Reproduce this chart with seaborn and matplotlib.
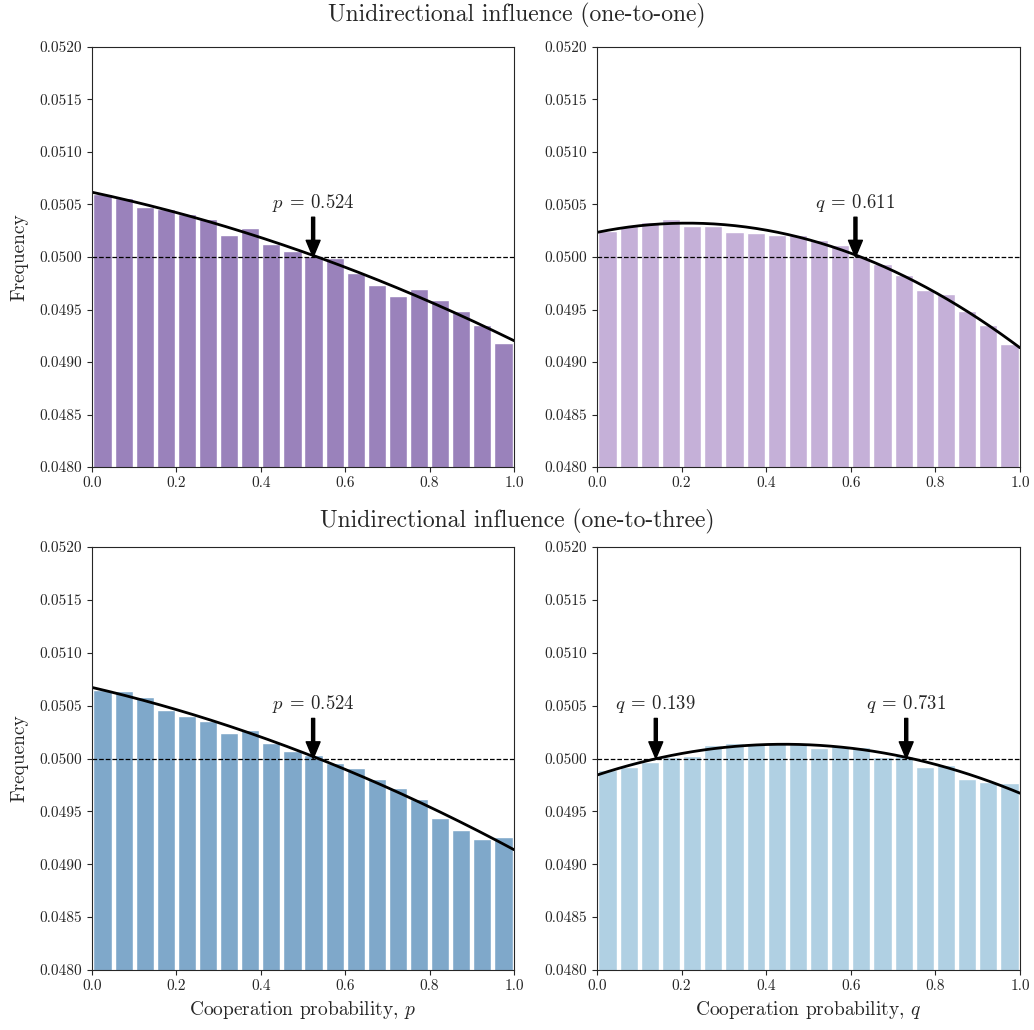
import numpy as np
import matplotlib
matplotlib.use('Agg')
import matplotlib.pyplot as plt
from matplotlib.ticker import FormatStrFormatter, MultipleLocator
import seaborn as sns

# bin centres (20 bins over [0, 1])
centers = np.arange(0.025, 1.0, 0.05)

# frequencies
freq_one_p = [0.05060, 0.05056, 0.05048, 0.05046, 0.05041, 0.05036, 0.05021, 0.05028, 0.05012, 0.05006,
              0.05001, 0.04999, 0.04985, 0.04973, 0.04963, 0.04970, 0.04959, 0.04949, 0.04935, 0.04918]
freq_one_q = [0.05025, 0.05030, 0.05033, 0.05036, 0.05030, 0.05030, 0.05024, 0.05023, 0.05021, 0.05021,
              0.05016, 0.05011, 0.05000, 0.04993, 0.04983, 0.04969, 0.04965, 0.04949, 0.04935, 0.04917]
freq_three_p = [0.05065, 0.05064, 0.05058, 0.05046, 0.05040, 0.05035, 0.05024, 0.05027, 0.05015, 0.05007,
                0.05003, 0.04996, 0.04991, 0.04981, 0.04972, 0.04962, 0.04944, 0.04932, 0.04924, 0.04926]
freq_three_q = [0.04989, 0.04992, 0.04997, 0.05001, 0.05002, 0.05013, 0.05015, 0.05015, 0.05016, 0.05014,
                0.05010, 0.05012, 0.05011, 0.05001, 0.05002, 0.04992, 0.04994, 0.04981, 0.04978, 0.04977]

# crossing points of the fit with the uniform level
cross_one_p = [0.524]
cross_one_q = [0.611]
cross_three_p = [0.524]
cross_three_q = [0.139, 0.731]

uniform = 0.05
colors = ['#9a82bb', '#c5b0d8', '#7fa8ca', '#b0d0e3']

sns.set_style('ticks')
plt.rcParams['font.family'] = 'serif'
plt.rcParams['font.serif'] = ['cmr10']
plt.rcParams['mathtext.fontset'] = 'cm'
plt.rcParams['axes.formatter.use_mathtext'] = True
plt.rcParams['axes.unicode_minus'] = False

fig = plt.figure(figsize=(10.34, 10.30), dpi=100)
W, H = 1034., 1030.
pos = [(92, 47, 514, 467), (597, 47, 1020, 467), (92, 547, 514, 970), (597, 547, 1020, 970)]
axes = [fig.add_axes([l / W, 1 - b / H, (r - l) / W, (b - t) / H]) for (l, t, r, b) in pos]

panels = [(freq_one_p, cross_one_p, 'p'), (freq_one_q, cross_one_q, 'q'),
          (freq_three_p, cross_three_p, 'p'), (freq_three_q, cross_three_q, 'q')]

xs = np.linspace(0, 1, 200)
for i, (ax, (fr, cr, var)) in enumerate(zip(axes, panels)):
    sns.histplot(x=centers, weights=fr, bins=20, binrange=(0, 1), shrink=0.86,
                 color=colors[i], alpha=1, edgecolor='white', linewidth=1.0, ax=ax)
    # quadratic fit of the frequencies
    coef = np.polyfit(centers, fr, 2)
    ax.plot(xs, np.polyval(coef, xs), color='black', lw=2)
    ax.axhline(uniform, color='black', ls='--', lw=0.9)
    for c in cr:
        ax.annotate(r'$%s\:=\:%.3f$' % (var, c), xy=(c, uniform), xytext=(c, 0.05041),
                    ha='center', va='bottom', fontsize=13.5,
                    arrowprops=dict(facecolor='black', edgecolor='black', width=2.2, headwidth=10, headlength=12))
    ax.set_xlim(0, 1)
    ax.set_ylim(0.048, 0.052)
    ax.yaxis.set_major_locator(MultipleLocator(0.0005))
    ax.yaxis.set_major_formatter(FormatStrFormatter('%.4f'))
    ax.xaxis.set_major_locator(MultipleLocator(0.2))
    ax.xaxis.set_major_formatter(FormatStrFormatter('%.1f'))
    ax.tick_params(labelsize=11)
    ax.set_ylabel('Frequency' if i % 2 == 0 else '', fontsize=14, labelpad=8)
    ax.set_xlabel('Cooperation probability, $%s$' % var if i >= 2 else '', fontsize=14)

fig.text(0.5, 1 - 15 / H, 'Unidirectional influence (one-to-one)', ha='center', va='center', fontsize=17)
fig.text(0.5, 1 - 521 / H, 'Unidirectional influence (one-to-three)', ha='center', va='center', fontsize=17)

fig.savefig('out.png', dpi=100)
